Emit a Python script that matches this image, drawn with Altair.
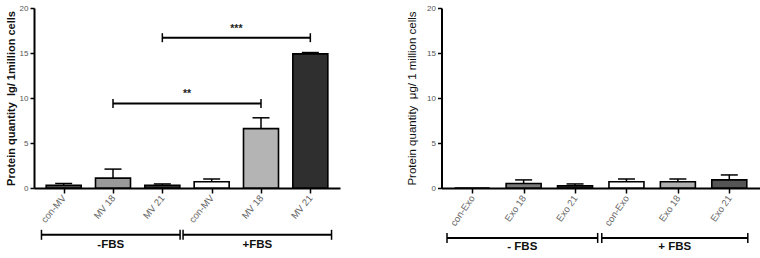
import altair as alt
import pandas as pd

positions = [1, 2, 3, 4, 5, 6]

left_names = ["con-MV", "MV 18", "MV 21", "con-MV", "MV 18", "MV 21"]
left_means = [0.3, 1.1, 0.3, 0.7, 6.6, 14.9]
left_errs = [0.2, 1.0, 0.15, 0.3, 1.2, 0.15]

right_names = ["con-Exo", "Exo 18", "Exo 21", "con-Exo", "Exo 18", "Exo 21"]
right_means = [0.0, 0.5, 0.25, 0.7, 0.7, 0.9]
right_errs = [0.0, 0.4, 0.2, 0.3, 0.3, 0.55]

left_groups = ["-FBS", "+FBS"]
left_group_start = [0.55, 3.42]
left_group_end = [3.36, 6.43]

right_groups = ["- FBS", "+ FBS"]
right_group_start = [0.51, 3.52]
right_group_end = [3.44, 6.36]

sig_labels = ["**", "***"]
sig_from = [2, 3]
sig_to = [5, 6]
sig_level = [9.4, 16.7]

left_colors = ["#4a4a4a", "#9a9a9a", "#333333", "#ffffff", "#b4b4b4", "#2f2f2f"]
right_colors = ["#ffffff", "#7a7a7a", "#333333", "#ffffff", "#b0b0b0", "#555555"]

FONT = "Liberation Sans"
NB = "\u00a0"
PLOT_W = 726
LEFT_W = 306
RIGHT_START = 407.5


def panel(names, means, errs, colors, title, title_weight, title_size, title_pad,
          x_range, y_offset, label_angle, groups, g_start, g_end, g_y, g_text_y, sig=True):
    df = pd.DataFrame({"pos": positions, "name": names, "mean": means, "err": errs})
    df["upper"] = df["mean"] + df["err"]
    label_js = "[" + ",".join("'" + n + "'" for n in names) + "][datum.value - 1]"

    xs = alt.Scale(domain=[0.5, 6.5], nice=False, zero=False, range=x_range)
    ys = alt.Scale(domain=[0, 20], nice=False)
    xax = alt.Axis(
        orient="bottom",
        values=positions, labelExpr=label_js, labelAngle=label_angle, labelAlign="right",
        labelBaseline="middle", labelFontSize=9.5, labelColor="#666666", labelFont=FONT,
        labelPadding=3, tickSize=5, tickWidth=1.5, tickColor="black",
        domainColor="black", domainWidth=2, grid=False, title=None)
    yargs = dict(
        orient="left",
        values=[0, 5, 10, 15, 20], tickSize=4, tickWidth=1.5, tickColor="black",
        domainColor="black", domainWidth=2, labelFontSize=8, labelColor="#555555",
        labelFont=FONT, labelPadding=2, grid=False, title=title,
        titleFont=FONT, titleFontSize=title_size, titleFontWeight=title_weight,
        titleColor="#111111", titlePadding=title_pad)
    if y_offset is not None:
        yargs["offset"] = y_offset
    yax = alt.Axis(**yargs)

    def X(f):
        return alt.X(f, scale=xs, axis=xax)

    def Y(f):
        return alt.Y(f, scale=ys, axis=yax)

    base = alt.Chart(df)
    bars = base.mark_bar(size=35, stroke="black", strokeWidth=1.6).encode(
        x=X("pos:Q"), y=Y("mean:Q"),
        color=alt.Color("pos:N", scale=alt.Scale(domain=positions, range=colors), legend=None),
    )
    ebase = base.transform_filter("datum.err > 0")
    err_rule = ebase.mark_rule(color="black", strokeWidth=1.5).encode(
        x=X("pos:Q"), y=Y("mean:Q"), y2="upper:Q")
    err_cap = ebase.mark_point(shape="M-1,0L1,0", size=289, filled=False, stroke="black",
                               strokeWidth=1.5, opacity=1).encode(
        x=X("pos:Q"), y=Y("upper:Q"))

    gdf = pd.DataFrame({"label": groups, "start": g_start, "end": g_end})
    gdf["mid"] = (gdf["start"] + gdf["end"]) / 2
    gdf["lvl"] = g_y
    gdf["tlvl"] = g_text_y
    gbase = alt.Chart(gdf)
    g_rule = gbase.mark_rule(color="black", strokeWidth=2).encode(
        x=X("start:Q"), x2="end:Q", y=Y("lvl:Q"))
    g_caps = gbase.transform_fold(["start", "end"], as_=["side", "xp"]).mark_point(
        shape="M0,-1L0,1", size=100, filled=False, stroke="black", strokeWidth=1.5,
        opacity=1).encode(x=X("xp:Q"), y=Y("lvl:Q"))
    g_text = gbase.mark_text(font=FONT, fontSize=11.5, fontWeight="bold", color="#111111",
                             baseline="middle").encode(
        x=X("mid:Q"), y=Y("tlvl:Q"), text="label:N")

    layers = [bars, err_rule, err_cap, g_rule, g_caps, g_text]

    if sig:
        sdf = pd.DataFrame({"label": sig_labels, "start": sig_from, "end": sig_to,
                            "lvl": sig_level})
        sdf["mid"] = (sdf["start"] + sdf["end"]) / 2
        sdf["tlvl"] = sdf["lvl"] + 1.0
        sbase = alt.Chart(sdf)
        s_rule = sbase.mark_rule(color="black", strokeWidth=2).encode(
            x=X("start:Q"), x2="end:Q", y=Y("lvl:Q"))
        s_caps = sbase.transform_fold(["start", "end"], as_=["side", "xp"]).mark_point(
            shape="M0,-1L0,1", size=81, filled=False, stroke="black", strokeWidth=1.5,
            opacity=1).encode(x=X("xp:Q"), y=Y("lvl:Q"))
        s_text = sbase.mark_text(font=FONT, fontSize=10.5, fontWeight="bold", color="#222222",
                                 baseline="middle").encode(
            x=X("mid:Q"), y=Y("tlvl:Q"), text="label:N")
        layers += [s_rule, s_caps, s_text]

    return alt.layer(*layers)


left = panel(left_names, left_means, left_errs, left_colors,
             "Protein quantity" + NB + NB + "lg/ 1million cells", "bold", 11, 3,
             [0, LEFT_W], None, -50,
             left_groups, left_group_start, left_group_end, -5.2, -6.35, sig=True)
right = panel(right_names, right_means, right_errs, right_colors,
              "Protein quantity" + NB + NB + "μg/ 1 million cells", "normal", 11.5, 9,
              [RIGHT_START, PLOT_W], -RIGHT_START, -55,
              right_groups, right_group_start, right_group_end, -5.55, -6.6, sig=False)

chart = alt.layer(left, right).resolve_scale(
    x="independent", y="independent", color="independent"
).properties(
    width=PLOT_W, height=180,
    autosize=alt.AutoSizeParams(type="none"),
    padding={"left": 34, "top": 8, "right": 0, "bottom": 70},
    background="white",
).configure_view(stroke=None)

chart.save("out.html", embed_options={"renderer": "svg", "actions": False})
